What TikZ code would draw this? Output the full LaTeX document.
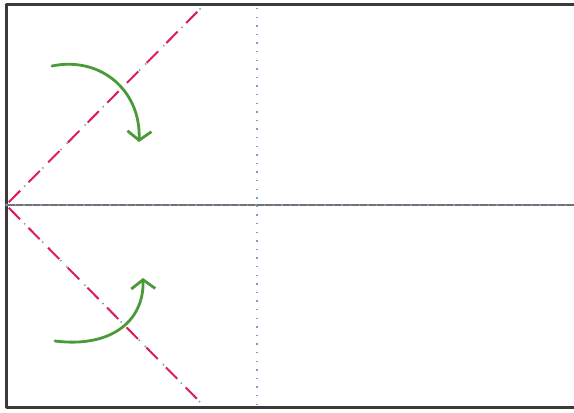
\documentclass[tikz,border=0pt]{standalone}
\usetikzlibrary{arrows.meta}
\definecolor{frame}{HTML}{3A3A3A}
\definecolor{crease}{HTML}{7A9CCC}
\definecolor{foldred}{HTML}{DC1E5A}
\definecolor{arrowgreen}{HTML}{4A9A3A}
\tikzset{
  framestyle/.style={draw=frame, line width=3pt, line cap=round, line join=round},
  midline/.style={draw=gray!90!black, line width=1.5pt},
  valley/.style={draw=crease, line width=1.6pt, dash pattern=on 1.4pt off 7.2pt},
  foldline/.style={draw=foldred, line width=2pt, dash pattern=on 16pt off 12pt, dash phase=-4pt},
  foldarrow/.style={draw=arrowgreen, line width=2.8pt, line cap=round, -{Straight Barb[length=9pt,width=24pt,line width=2.8pt]}},
}
\begin{document}
\begin{tikzpicture}[x=1pt,y=-1pt]
\useasboundingbox (0,0) rectangle (574,413);
\coordinate (TL) at (6,4);
\coordinate (TR) at (574,4);
\coordinate (BL) at (6,407);
\coordinate (BR) at (574,407);
\coordinate (ML) at (6,205);
\coordinate (MR) at (574,205);
\coordinate (VT) at (257,8);
\coordinate (VB) at (257,407);
\coordinate (DT) at (205,4);
\coordinate (DB) at (205,407);
% frame
\draw[framestyle] (TR) -- (TL) -- (BL) -- (BR);
% middle horizontal line
\draw[midline] (ML) -- (MR);
\draw[valley] (ML) -- (MR);
% vertical crease
\draw[valley] (VT) -- (VB);
% diagonal fold lines
\draw[valley] (ML) -- (DT);
\draw[valley] (ML) -- (DB);
\draw[foldline] (ML) -- (DT);
\draw[foldline] (ML) -- (DB);
% arrows
\coordinate (A1s) at (52,66);
\coordinate (A1e) at (139,142);
\draw[foldarrow] (A1s) .. controls (100,56) and (141,90) .. (A1e);
\coordinate (A2s) at (55,341);
\coordinate (A2e) at (143,278);
\draw[foldarrow] (A2s) .. controls (110,348) and (144,322) .. (A2e);
\end{tikzpicture}
\end{document}
